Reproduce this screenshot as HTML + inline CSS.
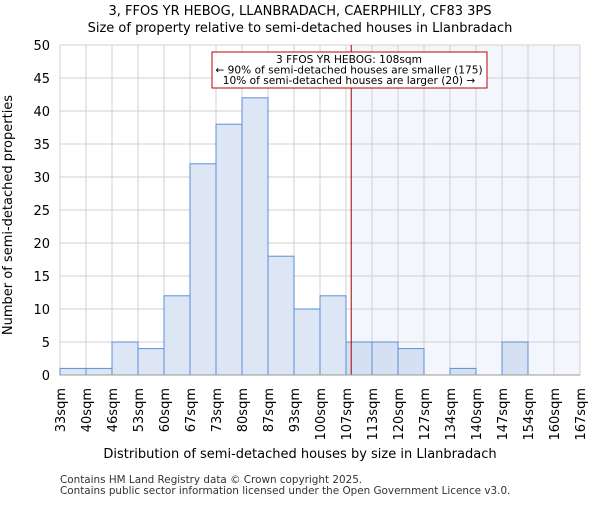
<!DOCTYPE html>
<html><head><meta charset="utf-8"><style>
body{margin:0;background:#fff;font-family:"Liberation Sans","DejaVu Sans",sans-serif;}
</style></head><body>
<svg width="600" height="500" xmlns="http://www.w3.org/2000/svg" font-family="DejaVu Sans, Liberation Sans, sans-serif">
<text x="300" y="15" text-anchor="middle" font-size="13">3, FFOS YR HEBOG, LLANBRADACH, CAERPHILLY, CF83 3PS</text>
<text x="300" y="32" text-anchor="middle" font-size="13">Size of property relative to semi-detached houses in Llanbradach</text>
<g id="plot"></g>
<text x="300" y="458" text-anchor="middle" font-size="13">Distribution of semi-detached houses by size in Llanbradach</text>
<text transform="translate(12,215) rotate(-90)" text-anchor="middle" font-size="13">Number of semi-detached properties</text>
<text x="60" y="483" font-size="10.4" fill="#333">Contains HM Land Registry data © Crown copyright 2025.</text>
<text x="60" y="494" font-size="10.4" fill="#333">Contains public sector information licensed under the Open Government Licence v3.0.</text>
</svg>
<script>
const labels=["33sqm","40sqm","46sqm","53sqm","60sqm","67sqm","73sqm","80sqm","87sqm","93sqm","100sqm","107sqm","113sqm","120sqm","127sqm","134sqm","140sqm","147sqm","154sqm","160sqm","167sqm"];
const counts=[1,1,5,4,12,32,38,42,18,10,12,5,5,4,0,1,0,5,0,0];
const yTicks=[0,5,10,15,20,25,30,35,40,45,50];
const markerBin=11.2;
const NS="http://www.w3.org/2000/svg";
const L=60,R=580,T=45,B=375,yMax=50;
const bw=(R-L)/counts.length;
const xs=i=>L+i*bw, ys=v=>B-v/yMax*(B-T);
const g=document.getElementById('plot');
function mk(t,a){const e=document.createElementNS(NS,t);for(const k in a)e.setAttribute(k,a[k]);g.appendChild(e);return e;}
const mx=xs(markerBin);
let e=mk('rect',{x:mx,y:T,width:R-mx,height:B-T,fill:'#f4f6fd'});


for(let i=0;i<=counts.length;i++){e=mk('line',{x1:xs(i),x2:xs(i),y1:T,y2:B,stroke:'#d0d0d0'});

}
yTicks.forEach(v=>{e=mk('line',{x1:L,x2:R,y1:ys(v),y2:ys(v),stroke:'#d0d0d0'});


e=mk('text',{x:L-10,y:ys(v)+5,'text-anchor':'end','font-size':13});e.textContent=v;

});
counts.forEach((c,i)=>{if(!c)return;e=mk('rect',{x:xs(i),y:ys(c),width:bw,height:B-ys(c),fill:i>=11?'#d6e0f3':'#dce6f5',stroke:'#5b8fd6','stroke-width':1});

});
e=mk('line',{x1:mx,x2:mx,y1:T,y2:B,stroke:'#a00000','stroke-width':1});


e=mk('line',{x1:L,x2:R,y1:B,y2:B,stroke:'#999'});


labels.forEach((l,i)=>{e=mk('text',{transform:`translate(${xs(i)+5},388) rotate(-90)`,'text-anchor':'end','font-size':13});e.textContent=l;

});
e=mk('rect',{x:212,y:52,width:275,height:36,fill:'#fff',stroke:'#c00000','stroke-width':1});


["3 FFOS YR HEBOG: 108sqm","← 90% of semi-detached houses are smaller (175)","10% of semi-detached houses are larger (20) →"].forEach((t,i)=>{e=mk('text',{x:349,y:63+i*10.5,'text-anchor':'middle','font-size':10.6});e.textContent=t;

});
</script>
</body></html>
